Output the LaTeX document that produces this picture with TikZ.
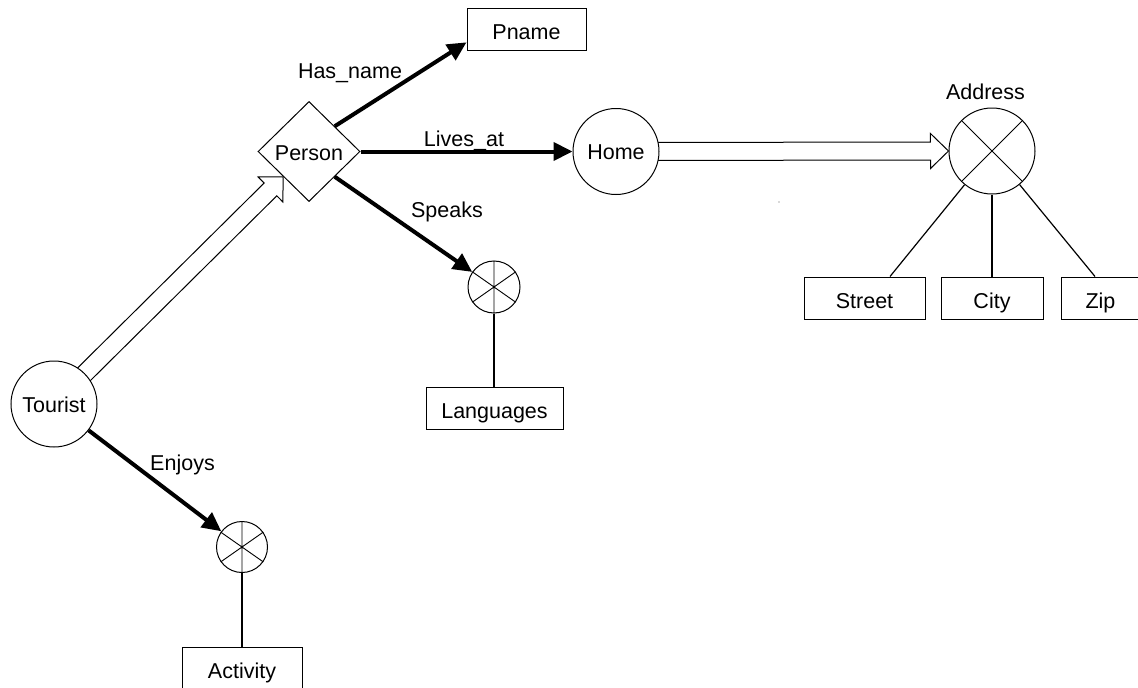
\documentclass[tikz,border=0pt]{standalone}
\usepackage{fontspec}
\setmainfont{Liberation Sans}
\usetikzlibrary{arrows.meta,shapes.geometric,calc,backgrounds}

% hollow "is-a" arrow from #1 to the tip #2
\newcommand\hollowarrow[2]{%
  \coordinate (ha) at (#1);
  \coordinate (hb) at (#2);
  \coordinate (hh) at ($(hb)!18pt!(ha)$);
  \draw[line width=1pt,fill=white,line join=miter]
    ($(ha)!9pt!90:(hb)$) -- ($(hh)!9pt!90:(hb)$) -- ($(hh)!17.5pt!90:(hb)$)
    -- (hb)
    -- ($(hh)!17.5pt!-90:(hb)$) -- ($(hh)!9pt!-90:(hb)$) -- ($(ha)!9pt!-90:(hb)$)
    -- cycle;
}

\tikzset{
  txt/.style={font=\fontsize{21.5pt}{26pt}\selectfont},
  entity/.style={circle,draw,line width=1pt,fill=white,minimum size=86pt,inner sep=0pt,txt,
    text height=16pt,text depth=0pt},
  agg/.style={circle,draw,line width=1pt,fill=white,minimum size=51pt,inner sep=0pt},
  attrbox/.style={rectangle,draw,line width=1pt,fill=white,minimum height=42pt,inner sep=0pt,txt,
    text height=20pt,text depth=0pt},
  rel/.style={diamond,draw,line width=1pt,fill=white,aspect=1,minimum width=102pt,minimum height=100pt,
    inner sep=0pt,txt,text height=17pt,text depth=0pt},
  role/.style={line width=4pt,-{Triangle[length=19pt,width=18pt]}},
  elabel/.style={txt,anchor=base},
  spoke/.style={line width=0.9pt},
  link/.style={line width=1.2pt},
}

\begin{document}
\begin{tikzpicture}[x=1pt,y=-1pt]
\clip (0,0) rectangle (1138,688);

% nodes
\node[attrbox,minimum width=119pt] (pname) at (526.5,29) {Pname};
\node[rel] (person) at (309,151.5) {Person};
\node[entity] (home) at (616,151.5) {Home};
\node[entity] (address) at (992,151) {};
\node[txt,anchor=base] (addrlabel) at (985.5,99) {Address};
\node[attrbox,minimum width=121pt] (street) at (864.5,298) {Street};
\node[attrbox,minimum width=102pt] (city) at (992,298) {City};
\node[attrbox,minimum width=79pt] (zip) at (1100.5,298) {Zip};
\node[agg,minimum size=52pt] (langset) at (494,287) {};
\node[attrbox,minimum width=137pt] (languages) at (494.5,408) {Languages};
\node[entity] (tourist) at (54,404) {Tourist};
\node[agg] (actset) at (242,547) {};
\node[attrbox,minimum width=120pt] (activity) at (242,668) {Activity};

% set-valued markers
\draw[spoke] (address.45) -- (address.225) (address.135) -- (address.315);
\foreach \n in {langset,actset}
  \draw[spoke] (\n.35) -- (\n.215) (\n.145) -- (\n.325) (\n.90) -- (\n.270);

% relationships
\draw[role] (person.north east) -- ($(pname.south west)!0.19!(pname.north west)$);
\draw[role] (person.east) -- (home);
\draw[role] (person.south east) -- (langset);
\draw[role] (tourist) -- (actset);

\node[elabel] (hasname) at (350,78) {Has\_name};
\node[elabel] (livesat) at (464,146) {Lives\_at};
\node[elabel] (speaks) at (447,217) {Speaks};
\node[elabel] (enjoys) at (182.5,470) {Enjoys};

% attribute links
\draw[link] (langset.south) -- (langset.south |- languages.north);
\draw[link] (actset.south) -- (actset.south |- activity.north);
\coordinate (streetjoin) at ($(street.north)+(25.5,0)$);
\coordinate (zipjoin) at ($(zip.north)+(-5.5,0)$);
\draw[link] (streetjoin) -- (address);
\draw[link] (city.north) -- (address);
\draw[link] (zipjoin) -- (address);

% specialisation arrows
\begin{scope}[on background layer]
  \hollowarrow{tourist.center}{person.south west}
  \hollowarrow{home.center}{address.west}
\end{scope}

\fill[gray!60] (779,202) circle (0.8pt);
\end{tikzpicture}
\end{document}
